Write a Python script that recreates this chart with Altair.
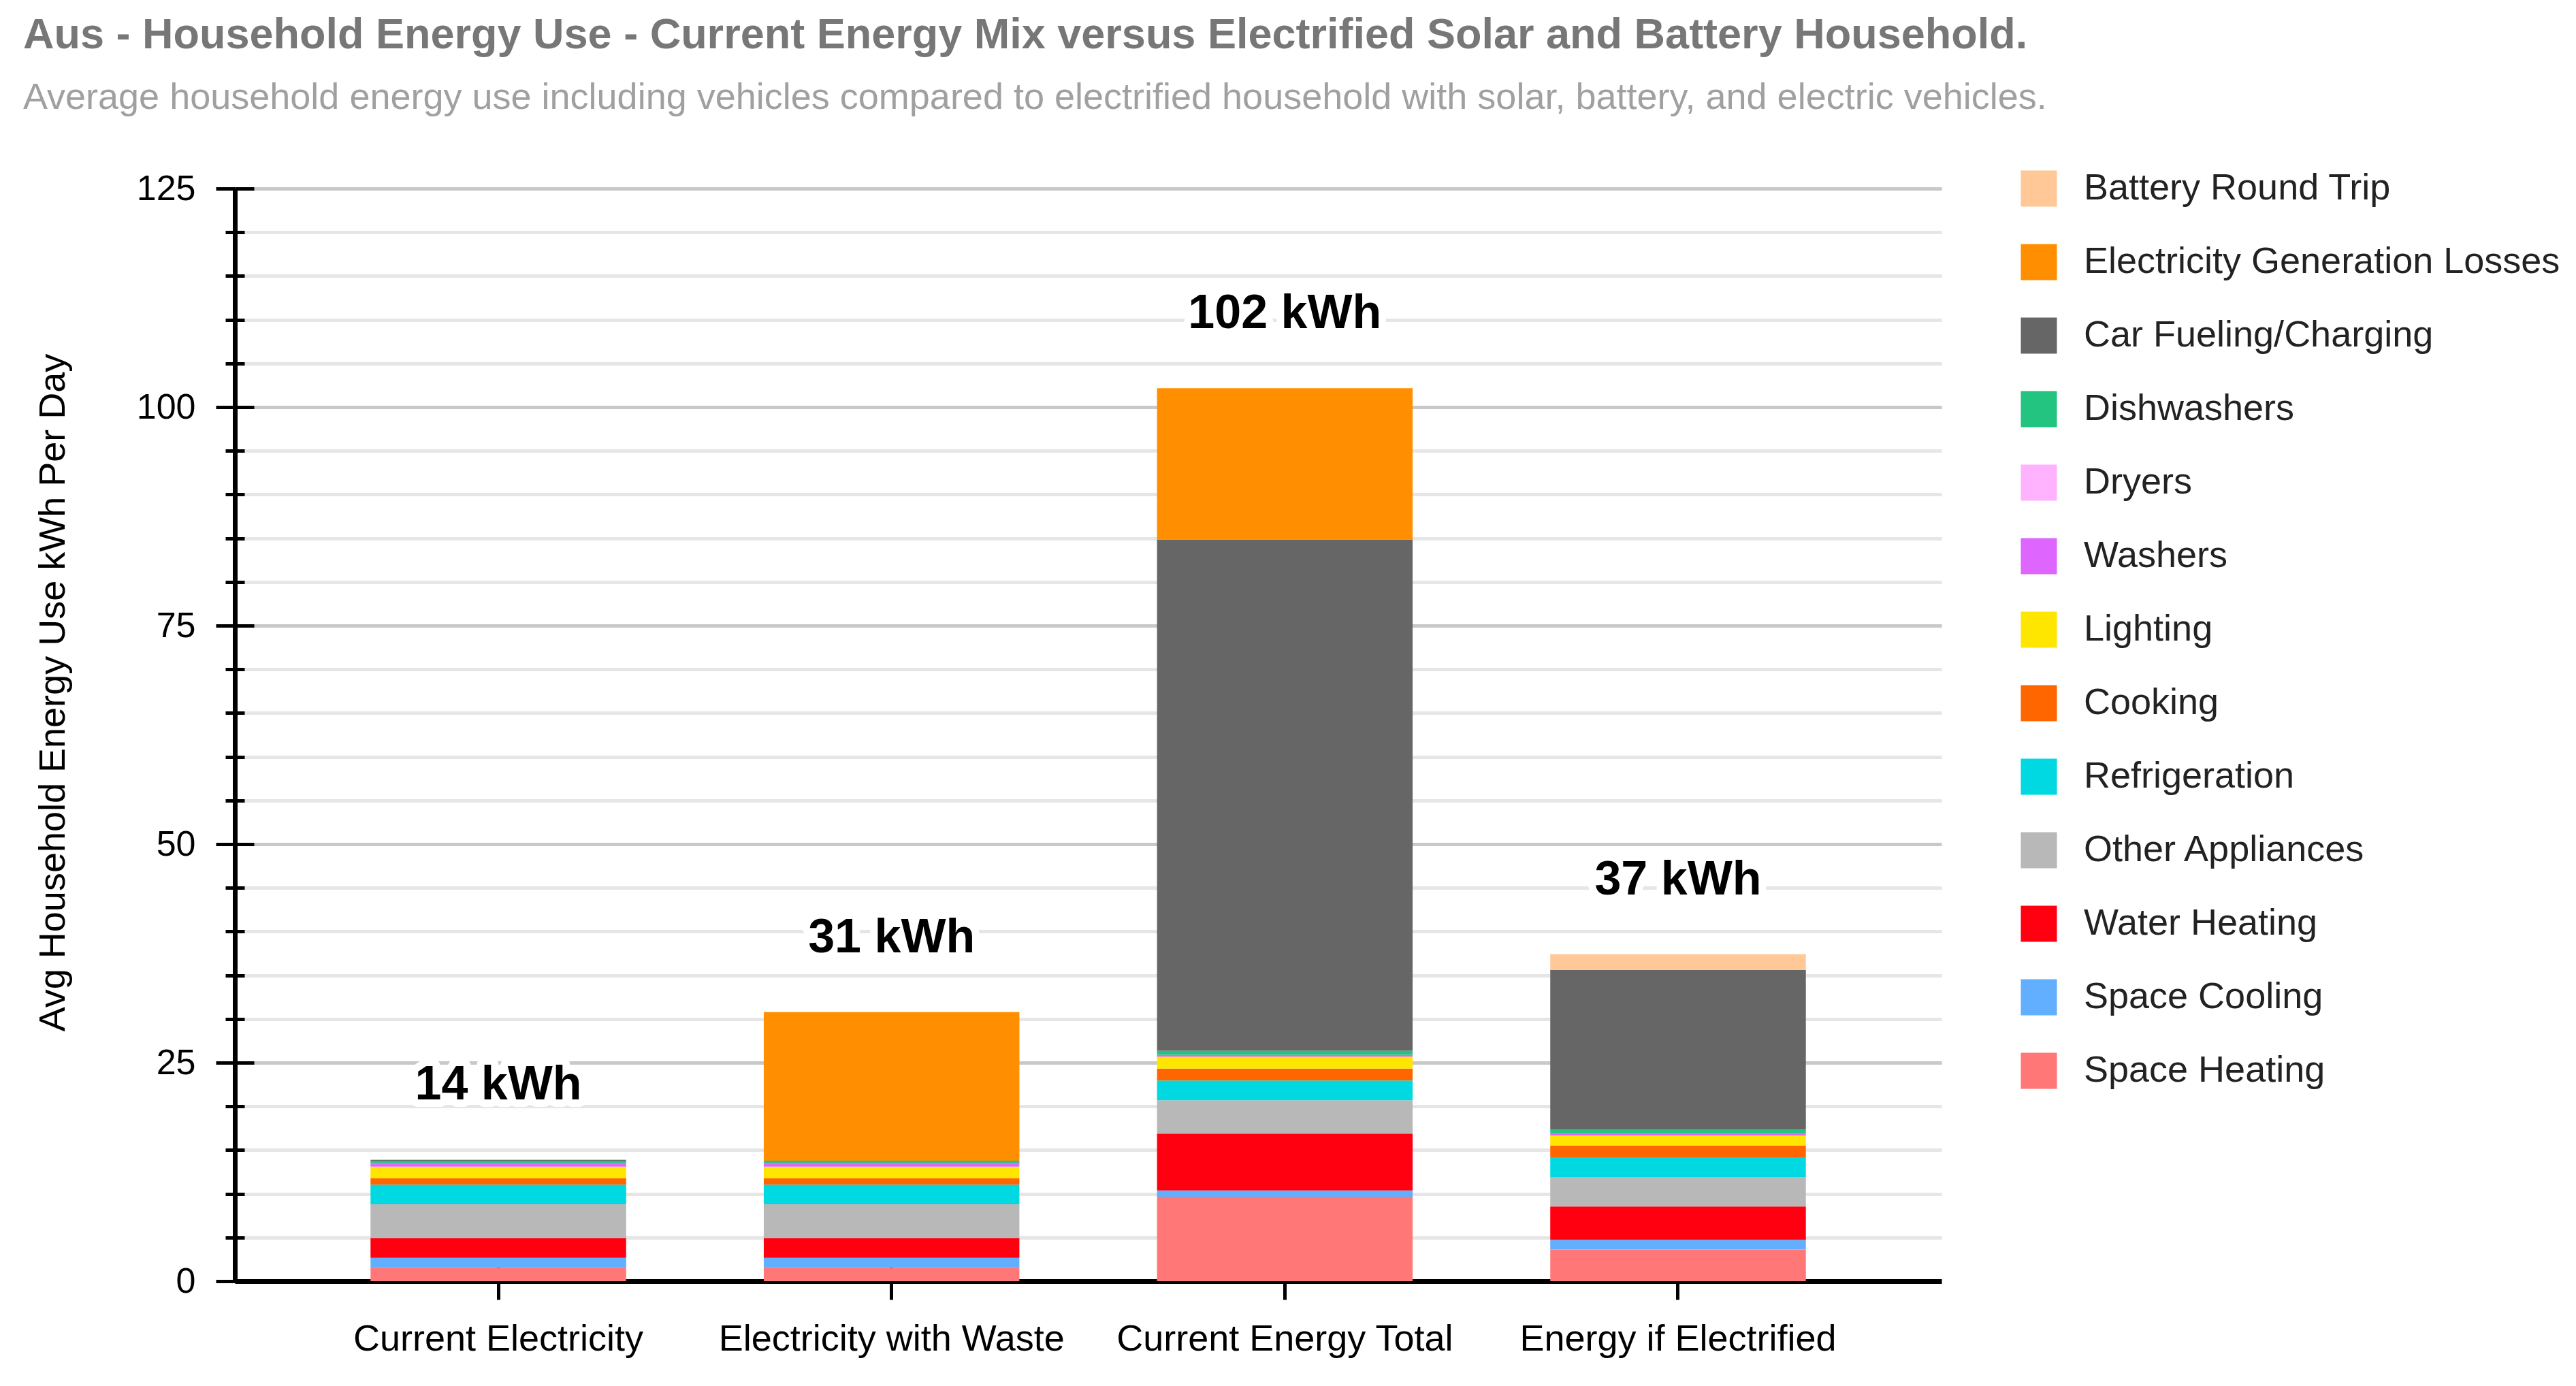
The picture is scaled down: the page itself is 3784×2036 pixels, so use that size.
import pandas as pd
import altair as alt

scenarios = ["Current Electricity", "Electricity with Waste", "Current Energy Total", "Energy if Electrified"]

# energy use per scenario, kWh per day (one value per scenario, in the order above)
space_heating = [1.53, 1.53, 9.66, 3.62]
space_cooling = [1.14, 1.14, 0.72, 1.11]
water_heating = [2.26, 2.26, 6.50, 3.82]
other_appliances = [3.87, 3.87, 3.82, 3.36]
refrigeration = [2.23, 2.23, 2.25, 2.27]
cooking = [0.73, 0.73, 1.37, 1.34]
lighting = [1.35, 1.35, 1.37, 1.14]
washers = [0.42, 0.42, 0.20, 0.26]
dryers = [0.0, 0.0, 0.0, 0.0]
dishwashers = [0.26, 0.26, 0.47, 0.41]
car_fueling = [0.08, 0.0, 58.5, 18.27]
generation_losses = [0.0, 17.0, 17.3, 0.0]
battery_round_trip = [0.08, 0.0, 0.0, 1.8]

# stacked from the bottom up
uses = ["Space Heating", "Space Cooling", "Water Heating", "Other Appliances", "Refrigeration",
        "Cooking", "Lighting", "Washers", "Dryers", "Dishwashers",
        "Car Fueling/Charging", "Electricity Generation Losses", "Battery Round Trip"]
series = [space_heating, space_cooling, water_heating, other_appliances, refrigeration,
          cooking, lighting, washers, dryers, dishwashers,
          car_fueling, generation_losses, battery_round_trip]

use_colors = {
    "Battery Round Trip": "#ffc896",
    "Electricity Generation Losses": "#ff8f00",
    "Car Fueling/Charging": "#666666",
    "Dishwashers": "#22c47f",
    "Dryers": "#ffb3ff",
    "Washers": "#de66ff",
    "Lighting": "#ffe600",
    "Cooking": "#ff6600",
    "Refrigeration": "#00d9e2",
    "Other Appliances": "#b8b8b8",
    "Water Heating": "#ff0011",
    "Space Cooling": "#62aeff",
    "Space Heating": "#ff7777",
}
legend_order = list(reversed(uses))

rows = []
for rank, (use, values) in enumerate(zip(uses, series)):
    for scenario, v in zip(scenarios, values):
        if v > 0:
            rows.append({"scenario": scenario, "use": use, "kwh": v, "rank": rank})
df = pd.DataFrame(rows)

FONT = "Liberation Sans"
W, H = 2507, 1605
y_ticks = list(range(0, 126, 5))
major = "datum.value % 25 === 0"

x_scale = alt.Scale(paddingInner=0.35, paddingOuter=0.345)
y_scale = alt.Scale(domain=[0, 125], nice=False)

bars = alt.Chart(df).mark_bar().encode(
    x=alt.X("scenario:N", sort=scenarios, scale=x_scale, title=None,
            axis=alt.Axis(orient="bottom", labelAngle=0, labelFontSize=54, labelFont=FONT,
                          labelColor="#000000", labelPadding=31, labelLimit=1000,
                          tickSize=27, tickWidth=5,
                          tickColor="#000000", domainColor="#000000", domainWidth=7, grid=False)),
    y=alt.Y("kwh:Q", stack="zero", scale=y_scale,
            title="Avg Household Energy Use kWh Per Day",
            axis=alt.Axis(orient="left", values=y_ticks,
                          labelExpr=f"{major} ? datum.label : ''",
                          labelFontSize=52, labelFont=FONT, labelColor="#000000", labelPadding=30,
                          tickSize={"condition": {"test": major, "value": 28}, "value": 14},
                          tickWidth=5, tickColor="#000000", domainColor="#000000", domainWidth=7,
                          grid=True, gridWidth=5,
                          gridColor={"condition": {"test": major, "value": "#c8c8c8"}, "value": "#e6e6e6"},
                          titleFontSize=54, titleFont=FONT, titleFontWeight="normal",
                          titleColor="#000000", titlePadding=95, titleY=740)),
    color=alt.Color("use:N", scale=alt.Scale(domain=legend_order,
                                             range=[use_colors[u] for u in legend_order]),
                    legend=alt.Legend(orient="none", legendX=2623, legendY=-27, title=None,
                                      symbolType="square", symbolSize=2809, symbolStrokeWidth=0,
                                      symbolOpacity=1, labelFontSize=54, labelFont=FONT,
                                      labelColor="#222222", labelOffset=39, rowPadding=54,
                                      padding=0, labelLimit=1200)),
    order=alt.Order("rank:Q"),
)

totals = alt.Chart(df).transform_aggregate(
    total="sum(kwh)", groupby=["scenario"]
).transform_calculate(
    label="format(round(datum.total), 'd') + ' kWh'"
)

halo = totals.mark_text(
    dy=-88, baseline="alphabetic", align="center", fontSize=70, fontWeight="bold", font=FONT,
    stroke="white", strokeWidth=22, strokeJoin="round", fill="white"
).encode(
    x=alt.X("scenario:N", sort=scenarios, scale=x_scale, axis=None),
    y=alt.Y("total:Q", scale=y_scale, axis=None),
    text="label:N",
)

labels = totals.mark_text(
    dy=-88, baseline="alphabetic", align="center", fontSize=70, fontWeight="bold", font=FONT,
    color="#000000"
).encode(
    # mirrored axes so the tick marks cross the axis lines
    x=alt.X("scenario:N", sort=scenarios, scale=x_scale, title=None,
            axis=alt.Axis(orient="top", offset=-H, labels=False, domain=False, grid=False,
                          tickSize=27, tickWidth=5, tickColor="#000000")),
    y=alt.Y("total:Q", scale=y_scale, title=None,
            axis=alt.Axis(orient="right", offset=-W, values=y_ticks, labels=False, domain=False,
                          grid=False, tickWidth=5, tickColor="#000000",
                          tickSize={"condition": {"test": major, "value": 28}, "value": 14})),
    text="label:N",
)

chart = alt.layer(bars, halo, labels).resolve_axis(
    x="independent", y="independent"
).properties(
    width=W,
    height=H,
    autosize=alt.AutoSizeParams(type="none"),
    padding={"left": 337, "top": 269, "right": 920, "bottom": 130},
    title=alt.TitleParams(
        text="Aus - Household Energy Use - Current Energy Mix versus Electrified Solar and Battery Household.",
        subtitle="Average household energy use including vehicles compared to electrified household with solar, battery, and electric vehicles.",
        anchor="start", frame="group", dx=-311, dy=-75,
        font=FONT, fontSize=63, fontWeight="bold", color="#777777",
        subtitleFont=FONT, subtitleFontSize=54, subtitleColor="#a0a0a0", subtitlePadding=33,
    ),
).configure_view(strokeWidth=0)

chart.save("out.html", embed_options={"renderer": "svg", "actions": False})
